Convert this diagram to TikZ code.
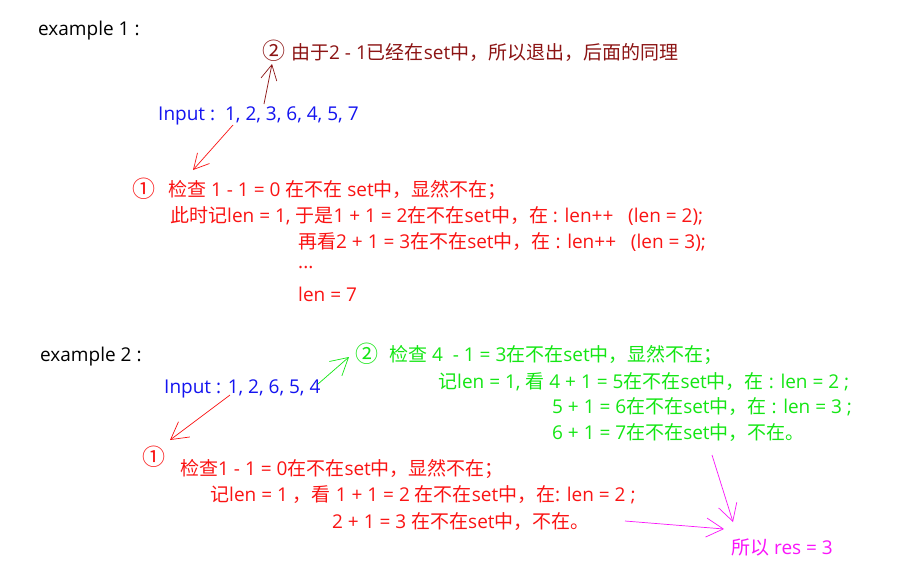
\documentclass[tikz,border=0pt]{standalone}
\usepackage{fontspec}
\setmainfont{Open Sans}
\newfontfamily\cjkf{Noto Sans CJK SC}
\newcommand{\zh}[1]{{\cjkf #1}}
\usetikzlibrary{arrows.meta}
\definecolor{dred}{RGB}{140,20,20}
\definecolor{iblue}{RGB}{20,20,240}
\definecolor{ired}{RGB}{250,20,20}
\definecolor{igreen}{RGB}{20,230,20}
\definecolor{imag}{RGB}{250,20,250}
\tikzset{
  txt/.style={anchor=west,inner sep=0pt,yshift=-2pt,font=\fontsize{19}{22}\selectfont},
  circ/.style={anchor=west,inner sep=0pt,yshift=-1pt,font=\fontsize{23}{26}\selectfont\cjkf},
  arr/.style={line width=0.7pt,-{Straight Barb[length=15pt,width=16pt,line width=0.7pt]}},
  bigarr/.style={line width=0.7pt,-{Straight Barb[length=17pt,width=19pt,line width=0.7pt]}}
}
\begin{document}
\begin{tikzpicture}[x=1pt,y=-1pt]
\useasboundingbox[fill=white] (0,0) rectangle (899,571);
% example 1
\node[txt] (ex1) at (38,29) {example 1 :};
\node[circ,text=dred] (c12) at (262,50) {②};
\node[txt,text=dred] (e1s2) at (291,50) {\zh{由于}2 - 1\zh{已经在}set\zh{中，所以退出，后面的同理}};
\node[txt,text=iblue] (in1) at (158,114) {Input :\ \ 1, 2, 3, 6, 4, 5, 7};
\node[circ,text=ired] (c11) at (132,188) {①};
\node[txt,text=ired] (e1s1) at (168,188) {\zh{检查} 1 - 1 = 0 \zh{在不在} set\zh{中，显然不在；}};
\node[txt,text=ired] (e1l2) at (170,214) {\zh{此时记}len = 1, \zh{于是}1 + 1 = 2\zh{在不在}set\zh{中，在} : len++\ \ \ (len = 2);};
\node[txt,text=ired] (e1l3) at (298,240) {\zh{再看}2 + 1 = 3\zh{在不在}set\zh{中，在} : len++\ \ \ (len = 3);};
\node[txt,text=ired] (e1l4) at (298,266) {...};
\node[txt,text=ired] (e1l5) at (298,292) {len = 7};
\coordinate (a1s) at (264,104);
\coordinate (a1e) at (272,64);
\draw[arr,dred] (a1s) -- (a1e);
\coordinate (b1s) at (233,125);
\coordinate (b1e) at (193,170);
\draw[arr,ired] (b1s) -- (b1e);
% example 2
\node[txt] (ex2) at (40,355) {example 2 :};
\node[circ,text=igreen] (c22) at (355,353) {②};
\node[txt,text=igreen] (e2s2) at (389,353) {\zh{检查} 4\ \ - 1 = 3\zh{在不在}set\zh{中，显然不在；}};
\node[txt,text=igreen] (e2g2) at (438,380) {\zh{记}len = 1, \zh{看} 4 + 1 = 5\zh{在不在}set\zh{中，在} : len = 2 ;};
\node[txt,text=igreen] (e2g3) at (552,405) {5 + 1 = 6\zh{在不在}set\zh{中，在} : len = 3 ;};
\node[txt,text=igreen] (e2g4) at (552,431) {6 + 1 = 7\zh{在不在}set\zh{中，不在。}};
\node[txt,text=iblue] (in2) at (164,387) {Input : 1, 2, 6, 5, 4};
\node[circ,text=ired] (e2c1) at (142,456) {①};
\node[txt,text=ired] (e2r1) at (180,467) {\zh{检查}1 - 1 = 0\zh{在不在}set\zh{中，显然不在；}};
\node[txt,text=ired] (e2r2) at (210,493) {\zh{记}len = 1 \zh{，看} 1 + 1 = 2 \zh{在不在}set\zh{中，在}: len = 2 ;};
\node[txt,text=ired] (e2r3) at (332,520) {2 + 1 = 3 \zh{在不在}set\zh{中，不在。}};
\node[txt,text=imag] (res) at (731,545) {\zh{所以} res = 3};
\coordinate (g2s) at (318,384);
\coordinate (g2e) at (349,357);
\draw[bigarr,igreen] (g2s) -- (g2e);
\coordinate (r2s) at (230,395);
\coordinate (r2e) at (170,440);
\draw[bigarr,ired] (r2s) -- (r2e);
\coordinate (m1s) at (712,455);
\coordinate (m1e) at (733,522);
\draw[bigarr,imag] (m1s) -- (m1e);
\coordinate (m2s) at (625,521);
\coordinate (m2e) at (724,529);
\draw[bigarr,imag] (m2s) -- (m2e);
\end{tikzpicture}
\end{document}
